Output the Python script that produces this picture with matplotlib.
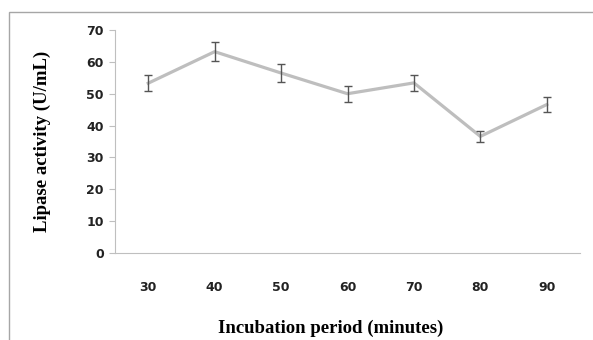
import matplotlib.pyplot as plt
from matplotlib.patches import Rectangle

# Datos
periodos = ['30', '40', '50', '60', '70', '80', '90']
actividad = [53.3, 63.2, 56.5, 50.0, 53.4, 36.6, 46.6]
error = [2.6, 3.0, 2.7, 2.5, 2.6, 1.8, 2.3]

fig = plt.figure(figsize=(5.93, 3.40), dpi=100)
ax = fig.add_axes([115 / 593, 1 - 253 / 340, 465 / 593, 223 / 340])

# Marco exterior (cortado a la derecha y abajo)
fig.patches.append(Rectangle((9 / 593, -0.1), 1.2, (1 - 12 / 340) + 0.1,
                             transform=fig.transFigure, fill=False,
                             edgecolor='#A6A6A6', linewidth=1))

x = range(len(periodos))
ax.plot(x, actividad, color='#BEBEBE', linewidth=2.3, zorder=2)
ax.errorbar(x, actividad, yerr=error, fmt='none', ecolor='#555555',
            elinewidth=1, capsize=3, capthick=1, zorder=3)

ax.set_xlim(-0.5, len(periodos) - 0.5)
ax.set_ylim(0, 70)
ax.set_yticks(range(0, 71, 10))
ax.set_xticks(list(x))
ax.set_xticklabels(periodos)

for s in ['top', 'right']:
    ax.spines[s].set_visible(False)
ax.spines['left'].set_color('#BFBFBF')
ax.spines['bottom'].set_color('#BFBFBF')
ax.tick_params(axis='y', length=4, color='#BFBFBF', labelsize=9, pad=4)
ax.tick_params(axis='x', length=0, labelsize=9, pad=20)
for lab in ax.get_xticklabels() + ax.get_yticklabels():
    lab.set_fontweight('bold')
    lab.set_color('#222222')

fig.text(331 / 593, 1 - 328 / 340, 'Incubation period (minutes)', ha='center', va='center',
         fontsize=13.5, fontweight='bold', family='Liberation Serif')
fig.text(42 / 593, 1 - 141 / 340, 'Lipase activity (U/mL)', ha='center', va='center',
         rotation=90, fontsize=13.5, fontweight='bold', family='Liberation Serif')

fig.savefig('out.png', dpi=100)
